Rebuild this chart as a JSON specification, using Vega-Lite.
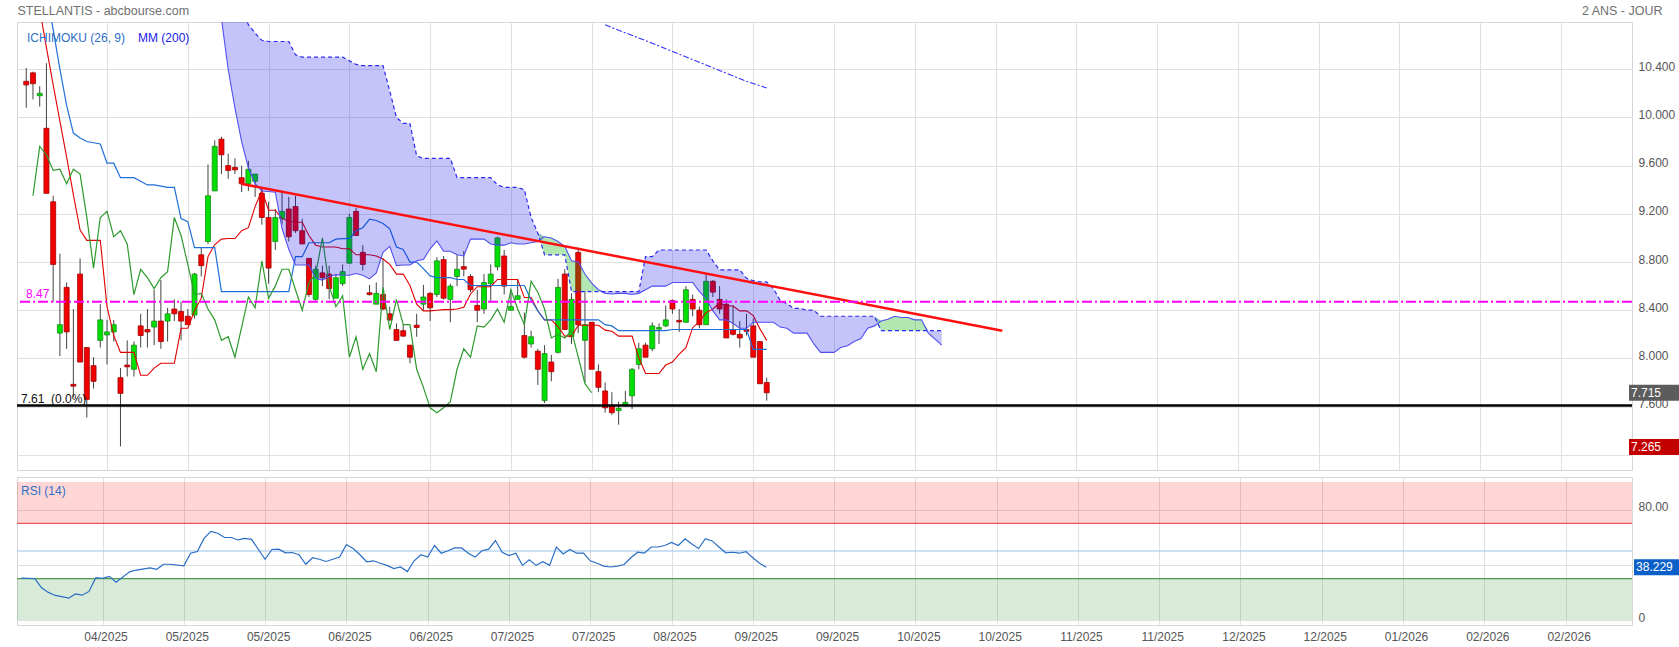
{
"$schema": "https://vega.github.io/schema/vega-lite/v6.json",
"padding": {"left": 15, "top": 3, "right": 0, "bottom": 0},
"spacing": 5,
"background": "white",
"config": {
  "view": {"stroke": "#d6d6d6", "strokeWidth": 1},
  "axis": {"labelFont": "Liberation Sans", "labelFontSize": 12, "labelColor": "#555555", "titleFont": "Liberation Sans", "gridColor": "#e0e0e0", "gridWidth": 1, "domain": false, "ticks": false},
  "text": {"font": "Liberation Sans", "fontSize": 12}
},
"datasets": {
"candles": [
{"i":0,"o":10.30,"h":10.41,"l":10.08,"c":10.27},{"i":1,"o":10.37,"h":10.38,"l":10.15,"c":10.28},{"i":2,"o":10.18,"h":10.26,"l":10.09,"c":10.20},{"i":3,"o":9.91,"h":10.45,"l":9.37,"c":9.37},{"i":4,"o":9.30,"h":9.35,"l":8.47,"c":8.78},{"i":5,"o":8.21,"h":8.87,"l":8.02,"c":8.28},{"i":6,"o":8.59,"h":8.63,"l":8.08,"c":8.22},{"i":7,"o":7.785,"h":8.41,"l":7.68,"c":7.77},{"i":8,"o":8.70,"h":8.83,"l":7.97,"c":7.97},{"i":9,"o":8.09,"h":8.09,"l":7.51,"c":7.66},
{"i":10,"o":7.94,"h":8.01,"l":7.75,"c":7.81},{"i":11,"o":8.15,"h":8.45,"l":8.09,"c":8.32},{"i":12,"o":8.195,"h":8.32,"l":7.95,"c":8.22},{"i":13,"o":8.22,"h":8.32,"l":8.14,"c":8.28},{"i":14,"o":7.84,"h":7.92,"l":7.27,"c":7.71},{"i":15,"o":7.945,"h":8.15,"l":7.85,"c":7.93},{"i":16,"o":7.91,"h":8.14,"l":7.85,"c":8.11},{"i":17,"o":8.27,"h":8.37,"l":8.09,"c":8.19},{"i":18,"o":8.24,"h":8.41,"l":8.09,"c":8.22},{"i":19,"o":8.26,"h":8.57,"l":8.11,"c":8.31},
{"i":20,"o":8.31,"h":8.65,"l":8.08,"c":8.14},{"i":21,"o":8.31,"h":8.42,"l":8.14,"c":8.37},{"i":22,"o":8.41,"h":8.49,"l":8.31,"c":8.37},{"i":23,"o":8.39,"h":8.47,"l":8.15,"c":8.31},{"i":24,"o":8.35,"h":8.41,"l":8.28,"c":8.28},{"i":25,"o":8.36,"h":8.71,"l":8.33,"c":8.70},{"i":26,"o":8.86,"h":8.92,"l":8.68,"c":8.77},{"i":27,"o":8.97,"h":9.61,"l":8.95,"c":9.35},{"i":28,"o":9.39,"h":9.81,"l":9.39,"c":9.76},{"i":29,"o":9.82,"h":9.84,"l":9.53,"c":9.69},
{"i":30,"o":9.60,"h":9.70,"l":9.49,"c":9.56},{"i":31,"o":9.585,"h":9.66,"l":9.53,"c":9.565},{"i":32,"o":9.50,"h":9.60,"l":9.38,"c":9.45},{"i":33,"o":9.45,"h":9.64,"l":9.39,"c":9.57},{"i":34,"o":9.47,"h":9.53,"l":9.34,"c":9.53},{"i":35,"o":9.37,"h":9.41,"l":9.11,"c":9.17},{"i":36,"o":9.17,"h":9.30,"l":8.62,"c":8.75},{"i":37,"o":8.97,"h":9.24,"l":8.90,"c":9.17},{"i":38,"o":9.16,"h":9.38,"l":9.11,"c":9.22},{"i":39,"o":9.24,"h":9.34,"l":8.97,"c":9.01},
{"i":40,"o":9.26,"h":9.35,"l":9.04,"c":9.06},{"i":41,"o":9.06,"h":9.16,"l":8.95,"c":8.95},{"i":42,"o":8.83,"h":8.83,"l":8.51,"c":8.53},{"i":43,"o":8.49,"h":8.77,"l":8.47,"c":8.74},{"i":44,"o":8.71,"h":8.77,"l":8.60,"c":8.67},{"i":45,"o":8.70,"h":8.77,"l":8.49,"c":8.58},{"i":46,"o":8.50,"h":8.70,"l":8.50,"c":8.67},{"i":47,"o":8.62,"h":8.78,"l":8.60,"c":8.72},{"i":48,"o":8.79,"h":9.20,"l":8.79,"c":9.17},{"i":49,"o":9.22,"h":9.25,"l":9.02,"c":9.02},
{"i":50,"o":8.88,"h":8.94,"l":8.73,"c":8.78},{"i":51,"o":8.545,"h":8.61,"l":8.52,"c":8.53},{"i":52,"o":8.45,"h":8.63,"l":8.45,"c":8.54},{"i":53,"o":8.53,"h":8.83,"l":8.40,"c":8.41},{"i":54,"o":8.37,"h":8.43,"l":8.31,"c":8.32},{"i":55,"o":8.24,"h":8.29,"l":8.15,"c":8.15},{"i":56,"o":8.23,"h":8.28,"l":8.18,"c":8.185},{"i":57,"o":8.11,"h":8.11,"l":7.96,"c":8.01},{"i":58,"o":8.276,"h":8.37,"l":8.18,"c":8.257},{"i":59,"o":8.45,"h":8.61,"l":8.40,"c":8.51},
{"i":60,"o":8.54,"h":8.55,"l":8.31,"c":8.42},{"i":61,"o":8.53,"h":8.84,"l":8.51,"c":8.81},{"i":62,"o":8.82,"h":8.85,"l":8.49,"c":8.50},{"i":63,"o":8.49,"h":8.62,"l":8.30,"c":8.60},{"i":64,"o":8.68,"h":8.86,"l":8.60,"c":8.74},{"i":65,"o":8.762,"h":8.89,"l":8.68,"c":8.741},{"i":66,"o":8.68,"h":8.70,"l":8.55,"c":8.57},{"i":67,"o":8.44,"h":8.57,"l":8.30,"c":8.40},{"i":68,"o":8.41,"h":8.70,"l":8.37,"c":8.63},{"i":69,"o":8.62,"h":8.78,"l":8.47,"c":8.70},
{"i":70,"o":8.76,"h":9.01,"l":8.73,"c":9.00},{"i":71,"o":8.85,"h":8.90,"l":8.53,"c":8.60},{"i":72,"o":8.40,"h":8.57,"l":8.40,"c":8.43},{"i":73,"o":8.49,"h":8.66,"l":8.49,"c":8.52},{"i":74,"o":8.19,"h":8.38,"l":8.00,"c":8.01},{"i":75,"o":8.12,"h":8.23,"l":8.09,"c":8.18},{"i":76,"o":8.06,"h":8.08,"l":7.78,"c":7.91},{"i":77,"o":7.65,"h":8.11,"l":7.63,"c":8.04},{"i":78,"o":7.97,"h":8.03,"l":7.81,"c":7.89},{"i":79,"o":8.05,"h":8.66,"l":8.04,"c":8.59},
{"i":80,"o":8.70,"h":8.74,"l":8.24,"c":8.24},{"i":81,"o":8.18,"h":8.54,"l":8.12,"c":8.49},{"i":82,"o":8.88,"h":8.92,"l":8.21,"c":8.28},{"i":83,"o":8.15,"h":8.56,"l":7.80,"c":8.28},{"i":84,"o":8.30,"h":8.30,"l":7.91,"c":7.91},{"i":85,"o":7.89,"h":7.95,"l":7.72,"c":7.76},{"i":86,"o":7.73,"h":7.80,"l":7.55,"c":7.59},{"i":87,"o":7.61,"h":7.72,"l":7.53,"c":7.55},{"i":88,"o":7.567,"h":7.64,"l":7.45,"c":7.586},{"i":89,"o":7.616,"h":7.73,"l":7.60,"c":7.635},
{"i":90,"o":7.69,"h":7.92,"l":7.58,"c":7.91},{"i":91,"o":7.95,"h":8.13,"l":7.91,"c":8.08},{"i":92,"o":8.11,"h":8.13,"l":8.01,"c":8.01},{"i":93,"o":8.08,"h":8.30,"l":8.06,"c":8.27},{"i":94,"o":8.243,"h":8.29,"l":8.12,"c":8.257},{"i":95,"o":8.27,"h":8.44,"l":8.26,"c":8.32},{"i":96,"o":8.48,"h":8.49,"l":8.37,"c":8.41},{"i":97,"o":8.316,"h":8.41,"l":8.22,"c":8.303},{"i":98,"o":8.30,"h":8.60,"l":8.30,"c":8.57},{"i":99,"o":8.49,"h":8.53,"l":8.35,"c":8.41},
{"i":100,"o":8.40,"h":8.43,"l":8.25,"c":8.28},{"i":101,"o":8.28,"h":8.70,"l":8.28,"c":8.64},{"i":102,"o":8.64,"h":8.65,"l":8.51,"c":8.55},{"i":103,"o":8.49,"h":8.60,"l":8.37,"c":8.41},{"i":104,"o":8.45,"h":8.49,"l":8.17,"c":8.17},{"i":105,"o":8.24,"h":8.44,"l":8.19,"c":8.20},{"i":106,"o":8.20,"h":8.31,"l":8.09,"c":8.17},{"i":107,"o":8.24,"h":8.37,"l":8.19,"c":8.225},{"i":108,"o":8.27,"h":8.33,"l":8.01,"c":8.01},{"i":109,"o":8.14,"h":8.14,"l":7.79,"c":7.79},
{"i":110,"o":7.80,"h":7.84,"l":7.65,"c":7.715}
],
"tenkan": [
{"i":2,"v":10.90},{"i":3,"v":10.58},{"i":4,"v":10.27},{"i":5,"v":9.97},{"i":6,"v":9.67},{"i":7,"v":9.36},{"i":8,"v":9.065},{"i":9,"v":8.98},{"i":10,"v":8.98},{"i":11,"v":8.98},{"i":12,"v":8.43},{"i":13,"v":8.19},{"i":14,"v":8.05},{"i":15,"v":8.05},{"i":16,"v":8.05},{"i":17,"v":7.86},{"i":18,"v":7.86},{"i":19,"v":7.92},{"i":20,"v":7.96},{"i":21,"v":7.96},{"i":22,"v":7.96},{"i":23,"v":8.25},{"i":24,"v":8.25},{"i":25,"v":8.395},{"i":26,"v":8.50},{"i":27,"v":8.845},{"i":28,"v":8.945},{"i":29,"v":8.99},{"i":30,"v":8.995},{"i":31,"v":8.995},{"i":32,"v":9.06},{"i":33,"v":9.085},{"i":34,"v":9.26},{"i":35,"v":9.395},{"i":36,"v":9.23},{"i":37,"v":9.23},{"i":38,"v":9.16},{"i":39,"v":9.14},{"i":40,"v":9.13},{"i":41,"v":9.13},{"i":42,"v":9.02},{"i":43,"v":8.94},{"i":44,"v":8.925},{"i":45,"v":8.925},{"i":46,"v":8.925},{"i":47,"v":8.91},{"i":48,"v":8.91},{"i":49,"v":8.86},{"i":50,"v":8.86},{"i":51,"v":8.86},{"i":52,"v":8.85},{"i":53,"v":8.825},{"i":54,"v":8.78},{"i":55,"v":8.70},{"i":56,"v":8.70},{"i":57,"v":8.605},{"i":58,"v":8.45},{"i":59,"v":8.395},{"i":60,"v":8.395},{"i":61,"v":8.40},{"i":62,"v":8.405},{"i":63,"v":8.405},{"i":64,"v":8.41},{"i":65,"v":8.425},{"i":66,"v":8.535},{"i":67,"v":8.595},{"i":68,"v":8.595},{"i":69,"v":8.595},{"i":70,"v":8.655},{"i":71,"v":8.655},{"i":72,"v":8.655},{"i":73,"v":8.655},{"i":74,"v":8.505},{"i":75,"v":8.505},{"i":76,"v":8.395},{"i":77,"v":8.32},{"i":78,"v":8.32},{"i":79,"v":8.265},{"i":80,"v":8.185},{"i":81,"v":8.185},{"i":82,"v":8.275},{"i":83,"v":8.275},{"i":84,"v":8.275},{"i":85,"v":8.275},{"i":86,"v":8.235},{"i":87,"v":8.225},{"i":88,"v":8.185},{"i":89,"v":8.185},{"i":90,"v":8.185},{"i":91,"v":8.005},{"i":92,"v":7.875},{"i":93,"v":7.875},{"i":94,"v":7.875},{"i":95,"v":7.945},{"i":96,"v":7.97},{"i":97,"v":8.035},{"i":98,"v":8.09},{"i":99,"v":8.255},{"i":100,"v":8.305},{"i":101,"v":8.38},{"i":102,"v":8.41},{"i":103,"v":8.46},{"i":104,"v":8.435},{"i":105,"v":8.435},{"i":106,"v":8.395},{"i":107,"v":8.395},{"i":108,"v":8.355},{"i":109,"v":8.245},{"i":110,"v":8.15}
],
"kijun": [
{"i":3,"v":11.05},{"i":4,"v":10.73},{"i":5,"v":10.40},{"i":6,"v":10.10},{"i":7,"v":9.87},{"i":8,"v":9.83},{"i":9,"v":9.80},{"i":10,"v":9.79},{"i":11,"v":9.78},{"i":12,"v":9.62},{"i":13,"v":9.62},{"i":14,"v":9.50},{"i":15,"v":9.50},{"i":16,"v":9.50},{"i":17,"v":9.47},{"i":18,"v":9.44},{"i":19,"v":9.44},{"i":20,"v":9.43},{"i":21,"v":9.42},{"i":22,"v":9.42},{"i":23,"v":9.16},{"i":24,"v":9.135},{"i":25,"v":8.92},{"i":26,"v":8.92},{"i":27,"v":8.92},{"i":28,"v":8.92},{"i":29,"v":8.555},{"i":30,"v":8.555},{"i":31,"v":8.555},{"i":32,"v":8.555},{"i":33,"v":8.555},{"i":34,"v":8.555},{"i":35,"v":8.555},{"i":36,"v":8.555},{"i":37,"v":8.555},{"i":38,"v":8.555},{"i":39,"v":8.555},{"i":40,"v":8.845},{"i":41,"v":8.845},{"i":42,"v":8.96},{"i":43,"v":8.96},{"i":44,"v":8.96},{"i":45,"v":8.96},{"i":46,"v":8.99},{"i":47,"v":8.995},{"i":48,"v":8.995},{"i":49,"v":9.06},{"i":50,"v":9.085},{"i":51,"v":9.155},{"i":52,"v":9.145},{"i":53,"v":9.12},{"i":54,"v":9.075},{"i":55,"v":8.925},{"i":56,"v":8.905},{"i":57,"v":8.80},{"i":58,"v":8.80},{"i":59,"v":8.745},{"i":60,"v":8.685},{"i":61,"v":8.67},{"i":62,"v":8.67},{"i":63,"v":8.67},{"i":64,"v":8.655},{"i":65,"v":8.655},{"i":66,"v":8.605},{"i":67,"v":8.605},{"i":68,"v":8.605},{"i":69,"v":8.605},{"i":70,"v":8.605},{"i":71,"v":8.605},{"i":72,"v":8.605},{"i":73,"v":8.605},{"i":74,"v":8.605},{"i":75,"v":8.485},{"i":76,"v":8.395},{"i":77,"v":8.32},{"i":78,"v":8.32},{"i":79,"v":8.32},{"i":80,"v":8.32},{"i":81,"v":8.32},{"i":82,"v":8.32},{"i":83,"v":8.32},{"i":84,"v":8.32},{"i":85,"v":8.32},{"i":86,"v":8.28},{"i":87,"v":8.27},{"i":88,"v":8.23},{"i":89,"v":8.23},{"i":90,"v":8.23},{"i":91,"v":8.23},{"i":92,"v":8.23},{"i":93,"v":8.23},{"i":94,"v":8.23},{"i":95,"v":8.23},{"i":96,"v":8.24},{"i":97,"v":8.24},{"i":98,"v":8.24},{"i":99,"v":8.24},{"i":100,"v":8.24},{"i":101,"v":8.24},{"i":102,"v":8.24},{"i":103,"v":8.24},{"i":104,"v":8.24},{"i":105,"v":8.24},{"i":106,"v":8.24},{"i":107,"v":8.24},{"i":108,"v":8.075},{"i":109,"v":8.075},{"i":110,"v":8.075}
],
"chikou": [
{"i":1,"v":9.35},{"i":2,"v":9.76},{"i":3,"v":9.69},{"i":4,"v":9.56},{"i":5,"v":9.57},{"i":6,"v":9.45},{"i":7,"v":9.57},{"i":8,"v":9.53},{"i":9,"v":9.17},{"i":10,"v":8.75},{"i":11,"v":9.17},{"i":12,"v":9.22},{"i":13,"v":9.01},{"i":14,"v":9.06},{"i":15,"v":8.95},{"i":16,"v":8.53},{"i":17,"v":8.74},{"i":18,"v":8.67},{"i":19,"v":8.58},{"i":20,"v":8.67},{"i":21,"v":8.72},{"i":22,"v":9.17},{"i":23,"v":9.02},{"i":24,"v":8.78},{"i":25,"v":8.53},{"i":26,"v":8.54},{"i":27,"v":8.41},{"i":28,"v":8.32},{"i":29,"v":8.15},{"i":30,"v":8.18},{"i":31,"v":8.01},{"i":32,"v":8.26},{"i":33,"v":8.51},{"i":34,"v":8.42},{"i":35,"v":8.81},{"i":36,"v":8.50},{"i":37,"v":8.60},{"i":38,"v":8.74},{"i":39,"v":8.74},{"i":40,"v":8.57},{"i":41,"v":8.40},{"i":42,"v":8.63},{"i":43,"v":8.70},{"i":44,"v":9.00},{"i":45,"v":8.60},{"i":46,"v":8.43},{"i":47,"v":8.52},{"i":48,"v":8.01},{"i":49,"v":8.18},{"i":50,"v":7.91},{"i":51,"v":8.04},{"i":52,"v":7.89},{"i":53,"v":8.59},{"i":54,"v":8.24},{"i":55,"v":8.49},{"i":56,"v":8.28},{"i":57,"v":8.28},{"i":58,"v":7.91},{"i":59,"v":7.76},{"i":60,"v":7.59},{"i":61,"v":7.55},{"i":62,"v":7.59},{"i":63,"v":7.64},{"i":64,"v":7.91},{"i":65,"v":8.08},{"i":66,"v":8.01},{"i":67,"v":8.27},{"i":68,"v":8.26},{"i":69,"v":8.32},{"i":70,"v":8.41},{"i":71,"v":8.30},{"i":72,"v":8.57},{"i":73,"v":8.41},{"i":74,"v":8.28},{"i":75,"v":8.64},{"i":76,"v":8.55},{"i":77,"v":8.41},{"i":78,"v":8.17},{"i":79,"v":8.20},{"i":80,"v":8.17},{"i":81,"v":8.23},{"i":82,"v":8.01},{"i":83,"v":7.79},{"i":84,"v":7.715}
],
"cloud": [
{"j":29,"a":10.82,"b":11.2,"top":11.2},{"j":30,"a":10.40,"b":11.1,"top":11.1},{"j":31,"a":10.08,"b":11.0,"top":11.0},{"j":32,"a":9.80,"b":10.9,"top":10.9},{"j":33,"a":9.58,"b":10.77,"top":10.77},{"j":34,"a":9.45,"b":10.70,"top":10.70},{"j":35,"a":9.39,"b":10.64,"top":10.64},{"j":36,"a":9.385,"b":10.63,"top":10.63},{"j":37,"a":9.38,"b":10.63,"top":10.63},{"j":38,"a":9.08,"b":10.63,"top":10.63},{"j":39,"a":8.905,"b":10.63,"top":10.63},
{"j":40,"a":8.775,"b":10.52,"top":10.52},{"j":41,"a":8.775,"b":10.50,"top":10.50},{"j":42,"a":8.775,"b":10.50,"top":10.50},{"j":43,"a":8.665,"b":10.50,"top":10.50},{"j":44,"a":8.65,"b":10.50,"top":10.50},{"j":45,"a":8.68,"b":10.50,"top":10.50},{"j":46,"a":8.695,"b":10.50,"top":10.50},{"j":47,"a":8.69,"b":10.50,"top":10.50},{"j":48,"a":8.69,"b":10.47,"top":10.47},{"j":49,"a":8.705,"b":10.44,"top":10.44},
{"j":50,"a":8.69,"b":10.43,"top":10.43},{"j":51,"a":8.66,"b":10.43,"top":10.43},{"j":52,"a":8.71,"b":10.43,"top":10.43},{"j":53,"a":8.88,"b":10.43,"top":10.43},{"j":54,"a":8.93,"b":10.22,"top":10.22},{"j":55,"a":8.77,"b":10.00,"top":10.00},{"j":56,"a":8.775,"b":9.95,"top":9.95},{"j":57,"a":8.775,"b":9.95,"top":9.95},{"j":58,"a":8.81,"b":9.68,"top":9.68},{"j":59,"a":8.82,"b":9.66,"top":9.66},
{"j":60,"a":8.91,"b":9.66,"top":9.66},{"j":61,"a":8.975,"b":9.66,"top":9.66},{"j":62,"a":8.89,"b":9.66,"top":9.66},{"j":63,"a":8.89,"b":9.66,"top":9.66},{"j":64,"a":8.86,"b":9.50,"top":9.50},{"j":65,"a":8.85,"b":9.50,"top":9.50},{"j":66,"a":8.99,"b":9.50,"top":9.50},{"j":67,"a":8.99,"b":9.50,"top":9.50},{"j":68,"a":8.99,"b":9.50,"top":9.50},{"j":69,"a":8.95,"b":9.50,"top":9.50},
{"j":70,"a":8.94,"b":9.44,"top":9.44},{"j":71,"a":8.94,"b":9.42,"top":9.42},{"j":72,"a":8.96,"b":9.42,"top":9.42},{"j":73,"a":8.95,"b":9.42,"top":9.42},{"j":74,"a":8.95,"b":9.40,"top":9.40},{"j":75,"a":8.96,"b":9.17,"top":9.17},{"j":76,"a":8.97,"b":9.04,"top":9.04},{"j":77,"a":9.01,"b":8.86,"top":9.01},{"j":78,"a":9.00,"b":8.86,"top":9.00},{"j":79,"a":8.97,"b":8.86,"top":8.97},
{"j":80,"a":8.93,"b":8.86,"top":8.93},{"j":81,"a":8.81,"b":8.555,"top":8.81},{"j":82,"a":8.80,"b":8.555,"top":8.80},{"j":83,"a":8.70,"b":8.555,"top":8.70},{"j":84,"a":8.625,"b":8.555,"top":8.625},{"j":85,"a":8.57,"b":8.555,"top":8.57},{"j":86,"a":8.54,"b":8.555,"top":8.555},{"j":87,"a":8.535,"b":8.555,"top":8.555},{"j":88,"a":8.54,"b":8.555,"top":8.555},{"j":89,"a":8.54,"b":8.555,"top":8.555},
{"j":90,"a":8.53,"b":8.555,"top":8.555},{"j":91,"a":8.54,"b":8.555,"top":8.555},{"j":92,"a":8.57,"b":8.845,"top":8.845},{"j":93,"a":8.60,"b":8.845,"top":8.845},{"j":94,"a":8.60,"b":8.90,"top":8.90},{"j":95,"a":8.60,"b":8.90,"top":8.90},{"j":96,"a":8.63,"b":8.90,"top":8.90},{"j":97,"a":8.63,"b":8.90,"top":8.90},{"j":98,"a":8.63,"b":8.90,"top":8.90},{"j":99,"a":8.63,"b":8.90,"top":8.90},
{"j":100,"a":8.555,"b":8.90,"top":8.90},{"j":101,"a":8.495,"b":8.90,"top":8.90},{"j":102,"a":8.395,"b":8.81,"top":8.81},{"j":103,"a":8.32,"b":8.735,"top":8.735},{"j":104,"a":8.32,"b":8.735,"top":8.735},{"j":105,"a":8.29,"b":8.735,"top":8.735},{"j":106,"a":8.25,"b":8.735,"top":8.735},{"j":107,"a":8.25,"b":8.665,"top":8.665},{"j":108,"a":8.30,"b":8.645,"top":8.645},{"j":109,"a":8.30,"b":8.635,"top":8.635},
{"j":110,"a":8.30,"b":8.635,"top":8.635},{"j":111,"a":8.30,"b":8.58,"top":8.58},{"j":112,"a":8.26,"b":8.48,"top":8.48},{"j":113,"a":8.25,"b":8.455,"top":8.455},{"j":114,"a":8.21,"b":8.415,"top":8.415},{"j":115,"a":8.21,"b":8.415,"top":8.415},{"j":116,"a":8.21,"b":8.40,"top":8.40},{"j":117,"a":8.12,"b":8.40,"top":8.40},{"j":118,"a":8.05,"b":8.35,"top":8.35},{"j":119,"a":8.05,"b":8.35,"top":8.35},
{"j":120,"a":8.05,"b":8.35,"top":8.35},{"j":121,"a":8.09,"b":8.35,"top":8.35},{"j":122,"a":8.105,"b":8.35,"top":8.35},{"j":123,"a":8.14,"b":8.35,"top":8.35},{"j":124,"a":8.165,"b":8.35,"top":8.35},{"j":125,"a":8.25,"b":8.35,"top":8.35},{"j":126,"a":8.27,"b":8.35,"top":8.35},{"j":127,"a":8.31,"b":8.23,"top":8.31},{"j":128,"a":8.325,"b":8.23,"top":8.325},{"j":129,"a":8.35,"b":8.23,"top":8.35},
{"j":130,"a":8.34,"b":8.23,"top":8.34},{"j":131,"a":8.34,"b":8.23,"top":8.34},{"j":132,"a":8.32,"b":8.23,"top":8.32},{"j":133,"a":8.32,"b":8.23,"top":8.32},{"j":134,"a":8.21,"b":8.23,"top":8.23},{"j":135,"a":8.16,"b":8.23,"top":8.23},{"j":136,"a":8.11,"b":8.23,"top":8.23}
],
"mm200": [{"i":86,"v":10.77},{"i":87,"v":10.745},{"i":91,"v":10.66},{"i":95,"v":10.57},{"i":99,"v":10.48},{"i":103,"v":10.39},{"i":107,"v":10.30},{"i":110,"v":10.245}],
"trend": [{"i":31.9,"v":9.45},{"i":145,"v":8.23}],
"rsi": [
{"i":0,"r":30.4},{"i":2,"r":30.0},{"i":3,"r":23.3},{"i":4,"r":20.0},{"i":5,"r":17.8},{"i":6,"r":16.9},{"i":7,"r":15.8},{"i":8,"r":18.9},{"i":9,"r":18.0},{"i":10,"r":20.7},{"i":11,"r":30.7},{"i":12,"r":30.2},{"i":13,"r":31.6},{"i":14,"r":27.3},{"i":16,"r":34.9},{"i":17,"r":36.2},{"i":19,"r":37.8},{"i":20,"r":36.7},{"i":21,"r":40.4},{"i":22,"r":40.4},{"i":24,"r":39.3},{"i":25,"r":48.4},{"i":26,"r":49.6},{"i":27,"r":59.3},{"i":28,"r":64.2},{"i":29,"r":62.9},{"i":30,"r":59.8},{"i":31,"r":59.8},{"i":32,"r":58.0},{"i":33,"r":59.1},{"i":34,"r":58.4},{"i":36,"r":44.0},{"i":37,"r":51.1},{"i":38,"r":51.3},{"i":39,"r":48.7},{"i":40,"r":48.9},{"i":41,"r":47.3},{"i":42,"r":40.4},{"i":43,"r":45.1},{"i":44,"r":44.0},{"i":45,"r":42.4},{"i":47,"r":45.6},{"i":48,"r":54.7},{"i":49,"r":51.8},{"i":50,"r":47.3},{"i":51,"r":42.2},{"i":52,"r":42.9},{"i":53,"r":41.1},{"i":54,"r":39.6},{"i":55,"r":37.3},{"i":56,"r":38.4},{"i":57,"r":35.1},{"i":58,"r":42.9},{"i":59,"r":47.3},{"i":60,"r":45.6},{"i":61,"r":54.0},{"i":62,"r":48.4},{"i":63,"r":50.2},{"i":64,"r":52.2},{"i":65,"r":52.2},{"i":66,"r":48.4},{"i":67,"r":45.6},{"i":68,"r":50.2},{"i":69,"r":51.3},{"i":70,"r":57.6},{"i":71,"r":49.1},{"i":72,"r":46.7},{"i":73,"r":48.4},{"i":74,"r":39.6},{"i":75,"r":43.6},{"i":76,"r":39.6},{"i":77,"r":42.2},{"i":78,"r":39.6},{"i":79,"r":52.9},{"i":80,"r":47.8},{"i":81,"r":51.1},{"i":82,"r":48.4},{"i":83,"r":48.4},{"i":84,"r":42.9},{"i":85,"r":41.1},{"i":86,"r":39.1},{"i":87,"r":38.4},{"i":88,"r":39.1},{"i":89,"r":40.2},{"i":90,"r":45.1},{"i":91,"r":49.1},{"i":92,"r":48.4},{"i":93,"r":52.9},{"i":94,"r":52.9},{"i":95,"r":54.0},{"i":96,"r":56.2},{"i":97,"r":54.0},{"i":98,"r":58.9},{"i":99,"r":55.1},{"i":100,"r":51.8},{"i":101,"r":58.9},{"i":102,"r":57.3},{"i":103,"r":52.9},{"i":104,"r":48.7},{"i":105,"r":49.1},{"i":106,"r":48.4},{"i":107,"r":49.6},{"i":108,"r":45.1},{"i":109,"r":41.1},{"i":110,"r":38.229}
]
},
"vconcat": [
{
"width": 1615, "height": 448,
"layer": [
{"data": {"name": "candles"}, "mark": {"type": "rule", "color": "#444444", "strokeWidth": 1},
 "encoding": {
  "x": {"field": "i", "type": "quantitative", "scale": {"domain": [-0.63, 237.8], "nice": false, "zero": false},
   "axis": {"orient": "top", "values": [12,24,36,48,60,72,84,96,108,120,132,144,156,168,180,192,204,216,228], "labels": false, "ticks": false, "domain": false, "grid": true, "title": "STELLANTIS - abcbourse.com", "titleX": 0, "titleY": -12, "titleAlign": "left", "titleBaseline": "middle", "titleAngle": 0, "titleFontSize": 12.5, "titleFontWeight": "normal", "titleColor": "#707070", "titlePadding": 0}},
  "y": {"field": "l", "type": "quantitative", "scale": {"domain": [7.1155, 10.7505], "nice": false, "zero": false},
   "axis": {"orient": "right", "values": [7.2,7.6,8,8.4,8.8,9.2,9.6,10,10.4], "labelExpr": "datum.value < 7.3 ? '' : format(datum.value, '.3f')", "labelPadding": 6, "labelBaseline": "middle", "labelOffset": -3, "grid": true, "title": "2 ANS - JOUR", "titleAngle": 0, "titleX": 30, "titleY": -12, "titleAlign": "right", "titleBaseline": "middle", "titleFontSize": 12.5, "titleFontWeight": "normal", "titleColor": "#707070"}},
  "y2": {"field": "h"}
 }},
{"data": {"name": "candles"}, "mark": {"type": "bar", "width": 5, "strokeWidth": 0.8},
 "encoding": {
  "x": {"field": "i", "type": "quantitative"},
  "y": {"field": "o", "type": "quantitative"},
  "y2": {"field": "c"},
  "color": {"condition": {"test": "datum.c >= datum.o", "value": "#00e000"}, "value": "#f20000"},
  "stroke": {"condition": {"test": "datum.c >= datum.o", "value": "#1a8a1a"}, "value": "#a00000"}
 }},
{"data": {"name": "tenkan"}, "mark": {"type": "line", "color": "#e00000", "strokeWidth": 1.1, "clip": true},
 "encoding": {"x": {"field": "i", "type": "quantitative"}, "y": {"field": "v", "type": "quantitative"}}},
{"data": {"name": "kijun"}, "mark": {"type": "line", "color": "#1f6fd8", "strokeWidth": 1.2, "clip": true},
 "encoding": {"x": {"field": "i", "type": "quantitative"}, "y": {"field": "v", "type": "quantitative"}}},
{"data": {"name": "chikou"}, "mark": {"type": "line", "color": "#2e9a2e", "strokeWidth": 1.2, "clip": true},
 "encoding": {"x": {"field": "i", "type": "quantitative"}, "y": {"field": "v", "type": "quantitative"}}},
{"data": {"name": "cloud"}, "mark": {"type": "area", "color": "#0000ee", "opacity": 0.23, "clip": true},
 "encoding": {"x": {"field": "j", "type": "quantitative"}, "y": {"field": "a", "type": "quantitative"}, "y2": {"field": "top"}}},
{"data": {"name": "cloud"}, "mark": {"type": "area", "color": "#00ae00", "opacity": 0.3, "clip": true},
 "encoding": {"x": {"field": "j", "type": "quantitative"}, "y": {"field": "b", "type": "quantitative"}, "y2": {"field": "top"}}},
{"data": {"name": "cloud"}, "mark": {"type": "line", "color": "#5050f0", "strokeWidth": 1.1, "clip": true},
 "encoding": {"x": {"field": "j", "type": "quantitative"}, "y": {"field": "a", "type": "quantitative"}}},
{"data": {"name": "cloud"}, "mark": {"type": "line", "color": "#2a2aee", "strokeWidth": 1.2, "strokeDash": [4, 3], "clip": true},
 "encoding": {"x": {"field": "j", "type": "quantitative"}, "y": {"field": "b", "type": "quantitative"}}},
{"data": {"name": "mm200"}, "mark": {"type": "line", "color": "#3030ff", "strokeWidth": 1.1, "strokeDash": [6, 2, 2, 2], "clip": true},
 "encoding": {"x": {"field": "i", "type": "quantitative"}, "y": {"field": "v", "type": "quantitative"}}},
{"data": {"name": "trend"}, "mark": {"type": "line", "color": "#ff1010", "strokeWidth": 2.5},
 "encoding": {"x": {"field": "i", "type": "quantitative"}, "y": {"field": "v", "type": "quantitative"}}},
{"data": {"values": [{"v": 8.47}]}, "mark": {"type": "rule", "color": "#ff00ff", "strokeWidth": 2, "strokeDash": [10, 3, 2, 3]},
 "encoding": {"y": {"field": "v", "type": "quantitative"}}},
{"data": {"values": [{"v": 7.61}]}, "mark": {"type": "rule", "color": "#000000", "strokeWidth": 2.5},
 "encoding": {"y": {"field": "v", "type": "quantitative"}}},
{"data": {"values": [{"v": 8.47, "t": "8.47"}]}, "mark": {"type": "text", "color": "#ff00ff", "align": "left", "baseline": "middle", "dx": 4, "dy": -8, "fontSize": 12},
 "encoding": {"x": {"datum": -0.63, "type": "quantitative"}, "y": {"field": "v", "type": "quantitative"}, "text": {"field": "t"}}},
{"data": {"values": [{"v": 7.61, "t": "7.61\u00a0 (0.0%)"}]}, "mark": {"type": "text", "color": "#111111", "align": "left", "baseline": "alphabetic", "dx": -1, "dy": -2, "fontSize": 12},
 "encoding": {"x": {"datum": -0.63, "type": "quantitative"}, "y": {"field": "v", "type": "quantitative"}, "text": {"field": "t"}}},
{"data": {"values": [{"v": 7.715}, {"v": 7.265}]}, "mark": {"type": "bar", "orient": "horizontal", "size": 16},
 "encoding": {"x": {"datum": 238.1, "type": "quantitative"}, "x2": {"datum": 246.5}, "y": {"field": "v", "type": "quantitative"},
  "color": {"condition": {"test": "datum.v > 7.5", "value": "#5c5c5c"}, "value": "#c20000"}}},
{"data": {"values": [{"v": 7.715}, {"v": 7.265}]}, "mark": {"type": "text", "color": "white", "align": "left", "baseline": "middle", "dx": 2, "fontSize": 12},
 "encoding": {"x": {"datum": 238.1, "type": "quantitative"}, "y": {"field": "v", "type": "quantitative"}, "text": {"field": "v", "format": ".3f"}}},
{"data": {"values": [{"t": "ICHIMOKU (26, 9)"}]}, "mark": {"type": "text", "color": "#2d6fc6", "align": "left", "baseline": "middle", "dx": 5, "dy": 11, "fontSize": 12},
 "encoding": {"x": {"datum": -0.63, "type": "quantitative"}, "y": {"datum": 10.7505, "type": "quantitative"}, "text": {"field": "t"}}},
{"data": {"values": [{"t": "MM (200)"}]}, "mark": {"type": "text", "color": "#2020e6", "align": "left", "baseline": "middle", "dy": 11, "fontSize": 12},
 "encoding": {"x": {"datum": 16.6, "type": "quantitative"}, "y": {"datum": 10.7505, "type": "quantitative"}, "text": {"field": "t"}}}
]
},
{
"width": 1615, "height": 148,
"layer": [
{"data": {"values": [{"lo": 70, "hi": 100}, {"lo": 0, "hi": 30}]}, "mark": {"type": "rect", "opacity": 0.16},
 "encoding": {
  "x": {"datum": -0.63, "type": "quantitative", "scale": {"domain": [-0.63, 237.8], "nice": false, "zero": false},
   "axis": {"orient": "bottom", "values": [12,24,36,48,60,72,84,96,108,120,132,144,156,168,180,192,204,216,228], "labelExpr": "['04/2025','05/2025','05/2025','06/2025','06/2025','07/2025','07/2025','08/2025','09/2025','09/2025','10/2025','10/2025','11/2025','11/2025','12/2025','12/2025','01/2026','02/2026','02/2026'][round(datum.value/12)-1]", "grid": true, "labelPadding": 6, "labelOffset": 3, "title": null}},
  "x2": {"datum": 237.8},
  "y": {"field": "lo", "type": "quantitative", "scale": {"domain": [0, 100], "nice": false, "zero": false},
   "axis": {"orient": "right", "values": [0, 40, 80], "labelExpr": "datum.value == 0 ? '0' : (datum.value == 40 ? '' : format(datum.value, '.2f'))", "grid": true, "labelPadding": 6, "labelBaseline": "middle", "labelOffset": -3, "title": null}},
  "y2": {"field": "hi"},
  "color": {"condition": {"test": "datum.lo >= 50", "value": "#ff0000"}, "value": "#0a800a"}
 }},
{"data": {"values": [{"r": 70}, {"r": 50}, {"r": 30}]}, "mark": {"type": "rule", "strokeWidth": 1.2},
 "encoding": {"y": {"field": "r", "type": "quantitative"},
  "color": {"condition": [{"test": "datum.r == 70", "value": "#e85a5a"}, {"test": "datum.r == 50", "value": "#9cc4ee"}], "value": "#4f9a4f"}}},
{"data": {"name": "rsi"}, "mark": {"type": "line", "color": "#2a6ec4", "strokeWidth": 1.2},
 "encoding": {"x": {"field": "i", "type": "quantitative"}, "y": {"field": "r", "type": "quantitative"}}},
{"data": {"values": [{"r": 38.229}]}, "mark": {"type": "bar", "orient": "horizontal", "size": 16, "color": "#0a5fc8"},
 "encoding": {"x": {"datum": 238.1, "type": "quantitative"}, "x2": {"datum": 246.5}, "y": {"field": "r", "type": "quantitative"}}},
{"data": {"values": [{"r": 38.229}]}, "mark": {"type": "text", "color": "white", "align": "left", "baseline": "middle", "dx": 2, "fontSize": 12},
 "encoding": {"x": {"datum": 238.1, "type": "quantitative"}, "y": {"field": "r", "type": "quantitative"}, "text": {"field": "r", "format": ".3f"}}},
{"data": {"values": [{"t": "RSI (14)"}]}, "mark": {"type": "text", "color": "#2d6fc6", "align": "left", "baseline": "middle", "dx": 4, "dy": 9, "fontSize": 12},
 "encoding": {"x": {"datum": -0.63, "type": "quantitative"}, "y": {"datum": 100, "type": "quantitative"}, "text": {"field": "t"}}}
]
}
]
}
